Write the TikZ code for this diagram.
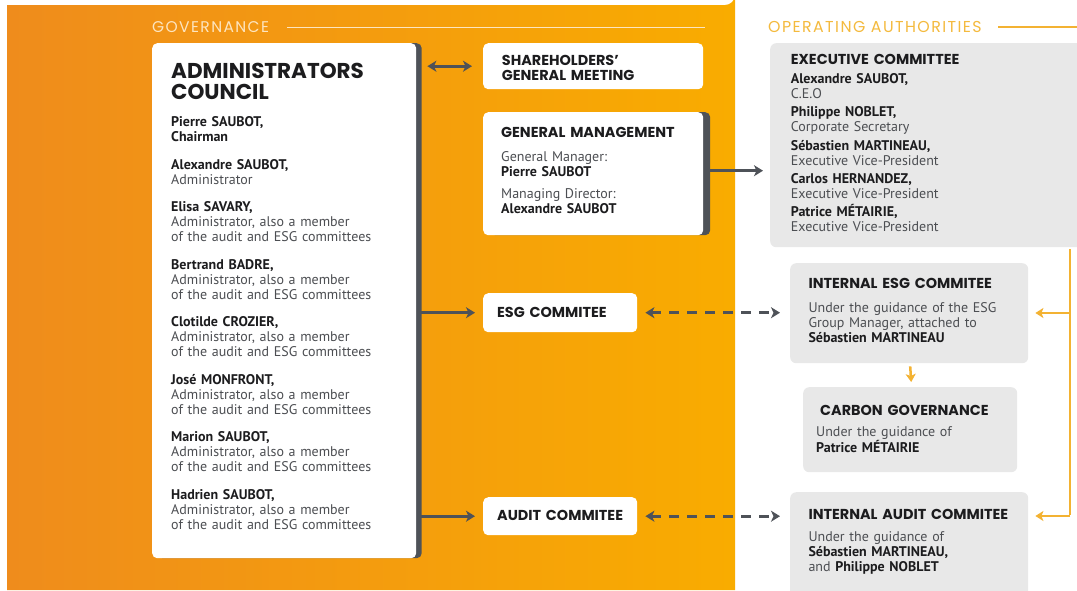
\documentclass[tikz,border=0pt]{standalone}
\usepackage{fontspec}
\setmainfont{PT Sans}
\newfontfamily\headfont{Poppins}
\newfontfamily\titlefont{Poppins}[LetterSpace=9]
\usetikzlibrary{arrows.meta,shadows,calc}

\definecolor{orL}{RGB}{239,140,28}
\definecolor{orM}{RGB}{246,160,12}
\definecolor{orR}{RGB}{249,172,0}
\definecolor{ink}{RGB}{28,28,30}
\definecolor{desc}{RGB}{76,78,82}
\definecolor{arrowc}{RGB}{78,82,88}
\definecolor{panel}{RGB}{232,232,232}
\definecolor{gold}{RGB}{243,178,50}
\definecolor{goldtxt}{RGB}{244,186,62}
\definecolor{govc}{RGB}{253,229,192}

\newcommand\bodyfont{\fontsize{14}{15}\selectfont}
\newcommand\hfont{\headfont\bfseries\fontsize{14.4}{15}\selectfont}
\newcommand\nm[1]{{\bfseries\color{ink}#1}}

\tikzset{
  gtip/.tip={Stealth[length=9pt,width=11pt,inset=2.5pt]},
  otip/.tip={Stealth[length=8pt,width=10pt,inset=2pt]}
}

\begin{document}
\begin{tikzpicture}[x=1pt,y=-1pt,
  wbox/.style={fill=white, rounded corners=5pt, inner sep=0pt, anchor=north west},
  gbox/.style={fill=panel, rounded corners=6pt, inner sep=0pt, anchor=north west},
  shade right/.style={general shadow={fill=arrowc, shadow xshift=#1, shadow yshift=0pt}},
  tb/.style={anchor=base west, inner sep=0pt, text width=250pt, align=left, font=\bodyfont, text=desc},
  hd/.style={anchor=base west, inner sep=0pt, text width=250pt, align=left, font=\hfont, text=ink},
  arr/.style={draw=arrowc, line width=3pt, -gtip},
  darr/.style={draw=arrowc, line width=3pt, gtip-gtip},
  dasharr/.style={darr, dash pattern=on 10pt off 8pt},
  oarr/.style={draw=gold, line width=2.5pt, -otip},
  oline/.style={draw=gold, line width=2.5pt}]

\useasboundingbox (0,0) rectangle (1077,590);
\fill[white] (0,0) rectangle (1077,590);

% orange governance panel
\shade[left color=orL, middle color=orM, right color=orR]
  (7,5) -- (725,5) arc[start angle=90, end angle=0, radius=10] -- (735,590) -- (7,590) -- cycle;

% section titles
\node[anchor=base west, inner sep=0pt, font=\titlefont\fontsize{15.5}{16}\selectfont, text=govc] (govt) at (152,32.5) {GOVERNANCE};
\draw[govc, line width=1pt] (287,27) -- (705,27);
\node[anchor=base west, inner sep=0pt, font=\titlefont\fontsize{15.8}{16}\selectfont, text=goldtxt] (opt) at (768,32.5) {OPERATING AUTHORITIES};
\draw[gold, line width=1.2pt] (998,27) -- (1077,27);

% administrators council
\node[wbox, shade right=5.5pt, minimum width=264pt, minimum height=515pt] (adm) at (152,43) {};
\node[anchor=base west, inner sep=0pt, text width=250pt, align=left, text=ink,
      font=\headfont\bfseries\fontsize{21.5}{21}\selectfont] (admt) at (171,78.3) {ADMINISTRATORS\\COUNCIL};
\node[tb] (a1) at (171,126.7) {\nm{Pierre SAUBOT,}\\\nm{Chairman}};
\node[tb] (a2) at (171,169)   {\nm{Alexandre SAUBOT,}\\Administrator};
\node[tb] (a3) at (171,211.7) {\nm{Elisa SAVARY,}\\Administrator, also a member\\of the audit and ESG committees};
\node[tb] (a4) at (171,269.2) {\nm{Bertrand BADRE,}\\Administrator, also a member\\of the audit and ESG committees};
\node[tb] (a5) at (171,326.7) {\nm{Clotilde CROZIER,}\\Administrator, also a member\\of the audit and ESG committees};
\node[tb] (a6) at (171,384.2) {\nm{José MONFRONT,}\\Administrator, also a member\\of the audit and ESG committees};
\node[tb] (a7) at (171,441.7) {\nm{Marion SAUBOT,}\\Administrator, also a member\\of the audit and ESG committees};
\node[tb] (a8) at (171,499.2) {\nm{Hadrien SAUBOT,}\\Administrator, also a member\\of the audit and ESG committees};

% shareholders and general management
\node[wbox, minimum width=220pt, minimum height=46pt] (sh) at (483,43) {};
\node[hd] (sht) at (501.7,65) {SHAREHOLDERS’\\GENERAL MEETING};

\node[wbox, shade right=7pt, minimum width=220pt, minimum height=123pt] (gm) at (483,112) {};
\node[hd] (gmt) at (501,137.7) {GENERAL MANAGEMENT};
\node[tb] (gm1) at (501,161) {General Manager:\\\nm{Pierre SAUBOT}};
\node[tb] (gm2) at (501,198) {Managing Director:\\\nm{Alexandre SAUBOT}};

% committees
\node[wbox, minimum width=154pt, minimum height=39pt] (esg) at (483,293) {};
\node[hd] (esgt) at (497,317.7) {ESG COMMITEE};
\node[wbox, minimum width=154pt, minimum height=38pt] (aud) at (483,497) {};
\node[hd] (audt) at (497,520.7) {AUDIT COMMITEE};

% operating authorities
\node[gbox, minimum width=320pt, minimum height=204pt] (exec) at (770,43) {};
\node[hd] (exect) at (790.7,64.7) {EXECUTIVE COMMITTEE};
\node[tb] (e1) at (790.7,83.3)  {\nm{Alexandre SAUBOT,}\\C.E.O};
\node[tb] (e2) at (790.7,116.7) {\nm{Philippe NOBLET,}\\Corporate Secretary};
\node[tb] (e3) at (790.7,150)   {\nm{Sébastien MARTINEAU,}\\Executive Vice-President};
\node[tb] (e4) at (790.7,183.3) {\nm{Carlos HERNANDEZ,}\\Executive Vice-President};
\node[tb] (e5) at (790.7,216.7) {\nm{Patrice MÉTAIRIE,}\\Executive Vice-President};

\node[gbox, minimum width=238pt, minimum height=100pt] (iesg) at (790,263) {};
\node[hd] (iesgt) at (808.3,288.3) {INTERNAL ESG COMMITEE};
\node[tb] (iesgb) at (808.3,312.3) {Under the guidance of the ESG\\Group Manager, attached to\\\nm{Sébastien MARTINEAU}};

\node[gbox, minimum width=214pt, minimum height=85pt] (carb) at (803,387) {};
\node[hd] (carbt) at (820,415) {CARBON GOVERNANCE};
\node[tb] (carbb) at (816,436.7) {Under the guidance of\\\nm{Patrice MÉTAIRIE}};

\node[gbox, minimum width=238pt, minimum height=110pt] (iaud) at (790,492) {};
\node[hd] (iaudt) at (808.3,519.3) {INTERNAL AUDIT COMMITEE};
\node[tb] (iaudb) at (808.3,541.7) {Under the guidance of\\\nm{Sébastien MARTINEAU,}\\and \nm{Philippe NOBLET}};

% grey connectors
\draw[darr] ([xshift=11pt]adm.east |- sh.west) -- ([xshift=-11pt]sh.west);
\draw[arr] ([xshift=4pt]adm.east |- esg.west) -- ([xshift=-8pt]esg.west);
\draw[arr] ([xshift=4pt]adm.east |- aud.west) -- ([xshift=-8pt]aud.west);
\draw[arr] ([xshift=6pt,yshift=3pt]gm.east) -- ([xshift=-7pt,yshift=3pt]gm.east -| exec.west);
\draw[dasharr] ([xshift=8pt]esg.east) -- ([xshift=-10pt]esg.east -| iesg.west);
\draw[dasharr] ([xshift=8pt]aud.east) -- ([xshift=-10pt]aud.east -| iaud.west);

% orange connectors
\coordinate (jtop) at (1070,249);
\coordinate (jesg) at (1070,313);
\coordinate (jaud) at (1070,516);
\draw[oline] (jtop) -- ([yshift=1.25pt]jaud);
\draw[oarr] (jesg) -- ([xshift=7pt]iesg.east |- jesg);
\draw[oarr] (jaud) -- ([xshift=7pt]iaud.east |- jaud);
\draw[oarr] ([xshift=1pt,yshift=-3pt]iesg.south) -- ([xshift=1pt,yshift=5pt]carb.north);
\end{tikzpicture}
\end{document}
